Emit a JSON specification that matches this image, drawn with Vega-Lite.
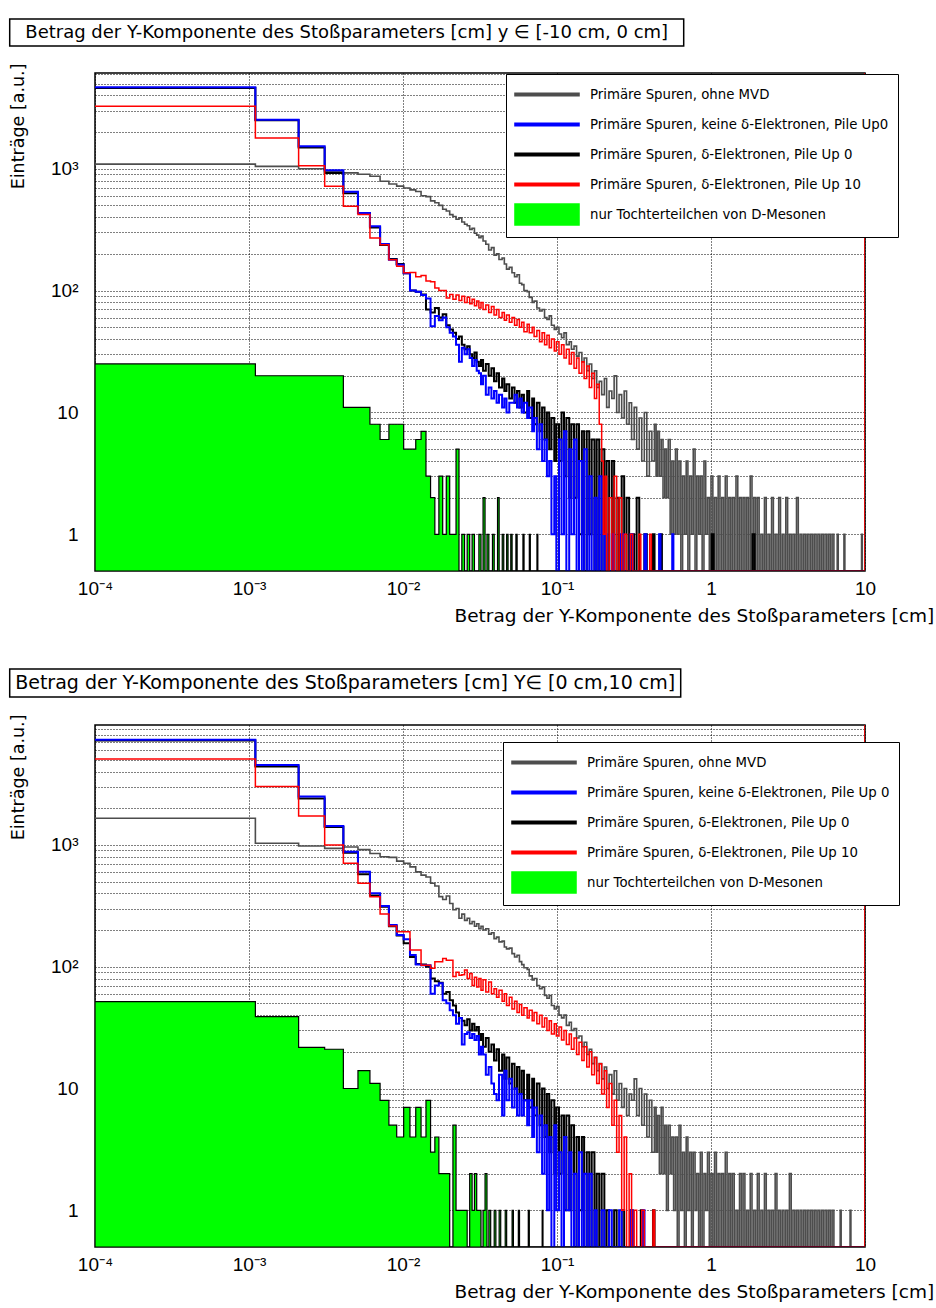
{
  "$schema": "https://vega.github.io/schema/vega-lite/v6.json",
  "padding": {"left": 8, "top": 18, "right": 4, "bottom": 4},
  "background": "white",
  "spacing": 42,
  "resolve": {"scale": {"color": "independent"}, "legend": {"color": "independent"}},
  "datasets": {
    "tg": [{"x":0.0001,"y":1090},{"x":0.0011,"y":1045},{"x":0.0021,"y":1000},{"x":0.0031,"y":950},{"x":0.0041,"y":925},{"x":0.0051,"y":900},{"x":0.0061,"y":868},{"x":0.0071,"y":790},{"x":0.0081,"y":750},{"x":0.0091,"y":720},{"x":0.0101,"y":695},{"x":0.0111,"y":670},{"x":0.0121,"y":650},{"x":0.0131,"y":600},{"x":0.0141,"y":590},{"x":0.0151,"y":545},{"x":0.0161,"y":525},{"x":0.0171,"y":500},{"x":0.0181,"y":465},{"x":0.0191,"y":450},{"x":0.0201,"y":420},{"x":0.0211,"y":405},{"x":0.0221,"y":385},{"x":0.0231,"y":395},{"x":0.0241,"y":365},{"x":0.0251,"y":350},{"x":0.0261,"y":340},{"x":0.0271,"y":318},{"x":0.0281,"y":325},{"x":0.0291,"y":295},{"x":0.0301,"y":285},{"x":0.0311,"y":272},{"x":0.0321,"y":280},{"x":0.0331,"y":255},{"x":0.0345,"y":240},{"x":0.036,"y":215},{"x":0.0375,"y":225},{"x":0.039,"y":195},{"x":0.0405,"y":200},{"x":0.042,"y":180},{"x":0.044,"y":185},{"x":0.0455,"y":165},{"x":0.047,"y":150},{"x":0.049,"y":155},{"x":0.051,"y":140},{"x":0.053,"y":130},{"x":0.055,"y":135},{"x":0.057,"y":115},{"x":0.059,"y":112},{"x":0.061,"y":100},{"x":0.064,"y":98},{"x":0.066,"y":88},{"x":0.069,"y":80},{"x":0.071,"y":82},{"x":0.074,"y":72},{"x":0.077,"y":68},{"x":0.08,"y":70},{"x":0.083,"y":60},{"x":0.086,"y":58},{"x":0.089,"y":62},{"x":0.092,"y":52},{"x":0.096,"y":48},{"x":0.099,"y":50},{"x":0.103,"y":44},{"x":0.107,"y":41},{"x":0.111,"y":45},{"x":0.115,"y":36},{"x":0.12,"y":38},{"x":0.124,"y":33},{"x":0.129,"y":35},{"x":0.134,"y":29},{"x":0.139,"y":31},{"x":0.145,"y":26},{"x":0.15,"y":28},{"x":0.156,"y":22},{"x":0.162,"y":25},{"x":0.168,"y":19},{"x":0.175,"y":22},{"x":0.181,"y":16},{"x":0.188,"y":18},{"x":0.195,"y":14},{"x":0.203,"y":19},{"x":0.21,"y":11},{"x":0.218,"y":15},{"x":0.227,"y":13},{"x":0.235,"y":20},{"x":0.244,"y":10},{"x":0.253,"y":14},{"x":0.263,"y":9},{"x":0.273,"y":15},{"x":0.283,"y":8},{"x":0.294,"y":12},{"x":0.305,"y":6},{"x":0.317,"y":11},{"x":0.329,"y":5},{"x":0.342,"y":9},{"x":0.355,"y":4},{"x":0.369,"y":10},{"x":0.383,"y":3},{"x":0.398,"y":7},{"x":0.413,"y":4},{"x":0.429,"y":8},{"x":0.44,"y":3},{"x":0.45,"y":7},{"x":0.462,"y":3},{"x":0.475,"y":6},{"x":0.488,"y":2},{"x":0.501,"y":5},{"x":0.514,"y":2},{"x":0.528,"y":6},{"x":0.543,"y":1},{"x":0.557,"y":4},{"x":0.572,"y":1},{"x":0.588,"y":5},{"x":0.604,"y":1},{"x":0.62,"y":4},{"x":0.637,"y":0.5},{"x":0.654,"y":3},{"x":0.672,"y":1},{"x":0.69,"y":4},{"x":0.708,"y":0.5},{"x":0.727,"y":3},{"x":0.747,"y":1},{"x":0.767,"y":5},{"x":0.788,"y":0.5},{"x":0.809,"y":3},{"x":0.831,"y":1},{"x":0.853,"y":3},{"x":0.876,"y":0.5},{"x":0.9,"y":4},{"x":0.924,"y":1},{"x":0.949,"y":2},{"x":0.975,"y":0.5},{"x":1.0,"y":3},{"x":1.028,"y":0.5},{"x":1.055,"y":2},{"x":1.084,"y":0.5},{"x":1.113,"y":3},{"x":1.143,"y":0.5},{"x":1.174,"y":2},{"x":1.206,"y":0.5},{"x":1.238,"y":3},{"x":1.272,"y":0.5},{"x":1.306,"y":2},{"x":1.341,"y":0.5},{"x":1.377,"y":2},{"x":1.415,"y":0.5},{"x":1.453,"y":3},{"x":1.492,"y":0.5},{"x":1.532,"y":2},{"x":1.574,"y":0.5},{"x":1.616,"y":2},{"x":1.66,"y":0.5},{"x":1.704,"y":2},{"x":1.75,"y":0.5},{"x":1.798,"y":3},{"x":1.846,"y":0.5},{"x":1.896,"y":2},{"x":1.947,"y":0.5},{"x":2.0,"y":2},{"x":2.054,"y":0.5},{"x":2.109,"y":1},{"x":2.166,"y":0.5},{"x":2.224,"y":2},{"x":2.284,"y":0.5},{"x":2.346,"y":1},{"x":2.409,"y":0.5},{"x":2.474,"y":2},{"x":2.541,"y":0.5},{"x":2.61,"y":1},{"x":2.68,"y":0.5},{"x":2.752,"y":2},{"x":2.826,"y":0.5},{"x":2.903,"y":1},{"x":2.981,"y":0.5},{"x":3.061,"y":2},{"x":3.144,"y":0.5},{"x":3.229,"y":1},{"x":3.316,"y":0.5},{"x":3.405,"y":1},{"x":3.497,"y":0.5},{"x":3.591,"y":2},{"x":3.688,"y":0.5},{"x":3.788,"y":1},{"x":3.89,"y":0.5},{"x":3.995,"y":1},{"x":4.103,"y":0.5},{"x":4.213,"y":1},{"x":4.327,"y":0.5},{"x":4.444,"y":1},{"x":4.564,"y":0.5},{"x":4.687,"y":1},{"x":4.813,"y":0.5},{"x":4.943,"y":1},{"x":5.076,"y":0.5},{"x":5.213,"y":1},{"x":5.354,"y":0.5},{"x":5.499,"y":1},{"x":5.647,"y":0.5},{"x":5.8,"y":1},{"x":5.956,"y":0.5},{"x":6.117,"y":1},{"x":6.28,"y":0.5},{"x":6.6,"y":1},{"x":6.7,"y":0.5},{"x":7.3,"y":1},{"x":7.4,"y":0.5},{"x":9.5,"y":1},{"x":9.6,"y":0.5},{"x":10,"y":0.5}],
    "tk": [{"x":0.0001,"y":4600},{"x":0.0011,"y":2500},{"x":0.0021,"y":1490},{"x":0.0031,"y":920},{"x":0.0041,"y":630},{"x":0.0051,"y":433},{"x":0.0061,"y":330},{"x":0.0071,"y":237},{"x":0.0081,"y":182},{"x":0.0091,"y":165},{"x":0.0101,"y":139},{"x":0.0111,"y":100},{"x":0.0121,"y":98},{"x":0.0131,"y":93},{"x":0.0141,"y":70},{"x":0.0151,"y":66},{"x":0.0161,"y":72},{"x":0.0171,"y":60},{"x":0.0181,"y":64},{"x":0.0191,"y":52},{"x":0.0201,"y":48},{"x":0.0211,"y":45},{"x":0.0221,"y":40},{"x":0.0231,"y":42},{"x":0.0241,"y":36},{"x":0.0251,"y":33},{"x":0.0261,"y":35},{"x":0.0271,"y":30},{"x":0.0281,"y":28},{"x":0.0291,"y":31},{"x":0.0301,"y":26},{"x":0.0311,"y":24},{"x":0.0321,"y":27},{"x":0.0331,"y":22},{"x":0.0345,"y":25},{"x":0.036,"y":20},{"x":0.0375,"y":23},{"x":0.039,"y":18},{"x":0.0405,"y":21},{"x":0.042,"y":16},{"x":0.044,"y":19},{"x":0.0455,"y":15},{"x":0.047,"y":17},{"x":0.049,"y":13},{"x":0.051,"y":16},{"x":0.053,"y":12},{"x":0.055,"y":15},{"x":0.057,"y":11},{"x":0.059,"y":14},{"x":0.061,"y":10},{"x":0.064,"y":15},{"x":0.066,"y":9},{"x":0.069,"y":13},{"x":0.071,"y":8},{"x":0.074,"y":12},{"x":0.077,"y":7},{"x":0.08,"y":11},{"x":0.083,"y":6},{"x":0.086,"y":10},{"x":0.089,"y":5},{"x":0.092,"y":9},{"x":0.096,"y":4},{"x":0.099,"y":8},{"x":0.103,"y":4},{"x":0.107,"y":10},{"x":0.111,"y":3},{"x":0.115,"y":9},{"x":0.12,"y":2},{"x":0.124,"y":8},{"x":0.129,"y":2},{"x":0.134,"y":8},{"x":0.139,"y":1},{"x":0.145,"y":7},{"x":0.15,"y":0.5},{"x":0.156,"y":7},{"x":0.162,"y":1},{"x":0.168,"y":6},{"x":0.175,"y":0.5},{"x":0.181,"y":6},{"x":0.188,"y":0.5},{"x":0.195,"y":5},{"x":0.203,"y":0.5},{"x":0.21,"y":4},{"x":0.218,"y":0.5},{"x":0.227,"y":4},{"x":0.235,"y":0.5},{"x":0.244,"y":2},{"x":0.253,"y":0.5},{"x":0.263,"y":3},{"x":0.273,"y":0.5},{"x":0.283,"y":2},{"x":0.294,"y":0.5},{"x":0.305,"y":1},{"x":0.317,"y":0.5},{"x":0.329,"y":2},{"x":0.342,"y":0.5},{"x":0.369,"y":1},{"x":0.383,"y":0.5},{"x":0.42,"y":1},{"x":0.43,"y":0.5},{"x":0.47,"y":1},{"x":0.48,"y":0.5},{"x":1.01,"y":1},{"x":1.04,"y":0.5},{"x":1.86,"y":1},{"x":1.92,"y":0.5},{"x":10,"y":0.5}],
    "tb": [{"x":0.0001,"y":4650},{"x":0.0011,"y":2520},{"x":0.0021,"y":1530},{"x":0.0031,"y":970},{"x":0.0041,"y":647},{"x":0.0051,"y":433},{"x":0.0061,"y":337},{"x":0.0071,"y":241},{"x":0.0081,"y":179},{"x":0.0091,"y":163},{"x":0.0101,"y":139},{"x":0.0111,"y":100},{"x":0.0121,"y":98},{"x":0.0131,"y":92},{"x":0.0141,"y":86},{"x":0.0151,"y":51},{"x":0.0161,"y":62},{"x":0.0171,"y":57},{"x":0.0181,"y":60},{"x":0.0191,"y":50},{"x":0.0201,"y":45},{"x":0.0211,"y":42},{"x":0.0221,"y":36},{"x":0.0231,"y":26},{"x":0.0241,"y":34},{"x":0.0251,"y":30},{"x":0.0261,"y":33},{"x":0.0271,"y":28},{"x":0.0281,"y":24},{"x":0.0291,"y":27},{"x":0.0301,"y":22},{"x":0.0311,"y":21},{"x":0.0321,"y":17},{"x":0.0331,"y":20},{"x":0.0345,"y":14},{"x":0.036,"y":16},{"x":0.0375,"y":13},{"x":0.039,"y":15},{"x":0.0405,"y":12},{"x":0.042,"y":14},{"x":0.044,"y":11},{"x":0.0455,"y":13},{"x":0.047,"y":10},{"x":0.049,"y":12},{"x":0.051,"y":12},{"x":0.053,"y":14},{"x":0.055,"y":11},{"x":0.057,"y":13},{"x":0.059,"y":10},{"x":0.061,"y":12},{"x":0.064,"y":9},{"x":0.066,"y":11},{"x":0.069,"y":7},{"x":0.071,"y":9},{"x":0.074,"y":5},{"x":0.077,"y":8},{"x":0.08,"y":4},{"x":0.083,"y":6},{"x":0.086,"y":3},{"x":0.089,"y":4},{"x":0.092,"y":1},{"x":0.096,"y":3},{"x":0.099,"y":0.5},{"x":0.103,"y":6},{"x":0.107,"y":1},{"x":0.111,"y":7},{"x":0.115,"y":0.5},{"x":0.12,"y":5},{"x":0.124,"y":1},{"x":0.129,"y":6},{"x":0.134,"y":0.5},{"x":0.139,"y":4},{"x":0.145,"y":0.5},{"x":0.15,"y":5},{"x":0.156,"y":0.5},{"x":0.162,"y":3},{"x":0.168,"y":0.5},{"x":0.175,"y":2},{"x":0.181,"y":0.5},{"x":0.188,"y":3},{"x":0.195,"y":0.5},{"x":0.203,"y":1},{"x":0.21,"y":0.5},{"x":0.227,"y":1},{"x":0.235,"y":0.5},{"x":0.26,"y":1},{"x":0.27,"y":0.5},{"x":0.3,"y":1},{"x":0.31,"y":0.5},{"x":0.37,"y":1},{"x":0.38,"y":0.5},{"x":0.46,"y":1},{"x":0.47,"y":0.5},{"x":0.56,"y":1},{"x":0.57,"y":0.5},{"x":10,"y":0.5}],
    "tr": [{"x":0.0001,"y":3250},{"x":0.0011,"y":1787},{"x":0.0021,"y":1058},{"x":0.0031,"y":717},{"x":0.0041,"y":491},{"x":0.0051,"y":420},{"x":0.0061,"y":270},{"x":0.0071,"y":238},{"x":0.0081,"y":179},{"x":0.0091,"y":158},{"x":0.0101,"y":140},{"x":0.0111,"y":141},{"x":0.0121,"y":130},{"x":0.0131,"y":133},{"x":0.0141,"y":120},{"x":0.0151,"y":118},{"x":0.0161,"y":105},{"x":0.0171,"y":100},{"x":0.0181,"y":100},{"x":0.0191,"y":87},{"x":0.0201,"y":93},{"x":0.0211,"y":85},{"x":0.0221,"y":92},{"x":0.0231,"y":83},{"x":0.0241,"y":90},{"x":0.0251,"y":80},{"x":0.0261,"y":88},{"x":0.0271,"y":78},{"x":0.0281,"y":85},{"x":0.0291,"y":75},{"x":0.0301,"y":82},{"x":0.0311,"y":72},{"x":0.0321,"y":80},{"x":0.0331,"y":70},{"x":0.0345,"y":76},{"x":0.036,"y":66},{"x":0.0375,"y":74},{"x":0.039,"y":63},{"x":0.0405,"y":70},{"x":0.042,"y":60},{"x":0.044,"y":66},{"x":0.0455,"y":57},{"x":0.047,"y":63},{"x":0.049,"y":55},{"x":0.051,"y":60},{"x":0.053,"y":52},{"x":0.055,"y":58},{"x":0.057,"y":50},{"x":0.059,"y":55},{"x":0.061,"y":46},{"x":0.064,"y":53},{"x":0.066,"y":45},{"x":0.069,"y":50},{"x":0.071,"y":42},{"x":0.074,"y":47},{"x":0.077,"y":38},{"x":0.08,"y":45},{"x":0.083,"y":36},{"x":0.086,"y":43},{"x":0.089,"y":34},{"x":0.092,"y":40},{"x":0.096,"y":32},{"x":0.099,"y":38},{"x":0.103,"y":30},{"x":0.107,"y":36},{"x":0.111,"y":28},{"x":0.115,"y":33},{"x":0.12,"y":25},{"x":0.124,"y":31},{"x":0.129,"y":23},{"x":0.134,"y":28},{"x":0.139,"y":21},{"x":0.145,"y":26},{"x":0.15,"y":19},{"x":0.156,"y":24},{"x":0.162,"y":16},{"x":0.168,"y":21},{"x":0.175,"y":13},{"x":0.181,"y":17},{"x":0.188,"y":8},{"x":0.195,"y":4},{"x":0.2,"y":1},{"x":0.205,"y":3},{"x":0.21,"y":0.5},{"x":0.218,"y":2},{"x":0.227,"y":0.5},{"x":0.235,"y":3},{"x":0.244,"y":0.5},{"x":0.253,"y":2},{"x":0.263,"y":0.5},{"x":0.273,"y":1},{"x":0.283,"y":0.5},{"x":0.3,"y":1},{"x":0.31,"y":0.5},{"x":0.34,"y":1},{"x":0.35,"y":0.5},{"x":0.4,"y":1},{"x":0.41,"y":0.5},{"x":9.98,"y":0.5},{"x":9.99,"y":30000},{"x":10,"y":30000}],
    "tn": [{"x":0.0001,"y":25},{"x":0.0011,"y":20},{"x":0.0041,"y":11},{"x":0.0061,"y":8},{"x":0.0071,"y":6},{"x":0.0081,"y":8},{"x":0.0101,"y":5},{"x":0.0121,"y":6},{"x":0.0131,"y":7},{"x":0.0141,"y":3},{"x":0.0151,"y":2},{"x":0.0161,"y":1},{"x":0.0171,"y":3},{"x":0.0181,"y":1},{"x":0.0191,"y":3},{"x":0.0201,"y":1},{"x":0.0211,"y":1},{"x":0.0221,"y":5},{"x":0.0231,"y":0.5},{"x":0.0241,"y":1},{"x":0.0251,"y":0.5},{"x":0.0261,"y":1},{"x":0.0271,"y":0.5},{"x":0.0281,"y":1},{"x":0.0291,"y":0.5},{"x":0.0311,"y":1},{"x":0.0321,"y":0.5},{"x":0.0331,"y":2},{"x":0.0341,"y":0.5},{"x":0.0351,"y":1},{"x":0.0361,"y":0.5},{"x":0.0381,"y":1},{"x":0.0391,"y":0.5},{"x":0.0411,"y":2},{"x":0.0421,"y":0.5},{"x":0.0441,"y":1},{"x":0.0451,"y":0.5},{"x":0.0471,"y":1},{"x":0.0481,"y":0.5},{"x":0.0501,"y":1},{"x":0.0511,"y":0.5},{"x":0.0541,"y":1},{"x":0.0551,"y":0.5},{"x":0.0601,"y":1},{"x":0.0611,"y":0.5},{"x":0.0661,"y":1},{"x":0.0671,"y":0.5},{"x":0.0741,"y":1},{"x":0.0751,"y":0.5},{"x":10,"y":0.5}],
    "bg": [{"x":0.0001,"y":1653},{"x":0.0011,"y":1030},{"x":0.0021,"y":980},{"x":0.0031,"y":936},{"x":0.0041,"y":960},{"x":0.0051,"y":915},{"x":0.0061,"y":850},{"x":0.0071,"y":800},{"x":0.0081,"y":790},{"x":0.0091,"y":735},{"x":0.0101,"y":706},{"x":0.0111,"y":660},{"x":0.0121,"y":600},{"x":0.0131,"y":565},{"x":0.0141,"y":545},{"x":0.0151,"y":484},{"x":0.0161,"y":460},{"x":0.0171,"y":376},{"x":0.0181,"y":356},{"x":0.0191,"y":380},{"x":0.0201,"y":330},{"x":0.0211,"y":293},{"x":0.0221,"y":300},{"x":0.0231,"y":250},{"x":0.0241,"y":270},{"x":0.0251,"y":240},{"x":0.0261,"y":250},{"x":0.0271,"y":225},{"x":0.0281,"y":235},{"x":0.0291,"y":215},{"x":0.0301,"y":225},{"x":0.0311,"y":205},{"x":0.0321,"y":215},{"x":0.0331,"y":200},{"x":0.0345,"y":205},{"x":0.036,"y":185},{"x":0.0375,"y":190},{"x":0.039,"y":170},{"x":0.0405,"y":175},{"x":0.042,"y":160},{"x":0.044,"y":162},{"x":0.0455,"y":145},{"x":0.047,"y":140},{"x":0.049,"y":142},{"x":0.051,"y":128},{"x":0.053,"y":120},{"x":0.055,"y":124},{"x":0.057,"y":110},{"x":0.059,"y":104},{"x":0.061,"y":98},{"x":0.064,"y":95},{"x":0.066,"y":84},{"x":0.069,"y":78},{"x":0.071,"y":80},{"x":0.074,"y":70},{"x":0.077,"y":66},{"x":0.08,"y":68},{"x":0.083,"y":58},{"x":0.086,"y":55},{"x":0.089,"y":58},{"x":0.092,"y":48},{"x":0.096,"y":45},{"x":0.099,"y":47},{"x":0.103,"y":40},{"x":0.107,"y":38},{"x":0.111,"y":40},{"x":0.115,"y":33},{"x":0.12,"y":35},{"x":0.124,"y":30},{"x":0.129,"y":31},{"x":0.134,"y":26},{"x":0.139,"y":27},{"x":0.145,"y":22},{"x":0.15,"y":24},{"x":0.156,"y":19},{"x":0.162,"y":21},{"x":0.168,"y":16},{"x":0.175,"y":18},{"x":0.181,"y":14},{"x":0.188,"y":16},{"x":0.195,"y":12},{"x":0.203,"y":15},{"x":0.21,"y":10},{"x":0.218,"y":13},{"x":0.227,"y":9},{"x":0.235,"y":14},{"x":0.244,"y":8},{"x":0.253,"y":11},{"x":0.263,"y":7},{"x":0.273,"y":10},{"x":0.283,"y":6},{"x":0.294,"y":9},{"x":0.305,"y":8},{"x":0.317,"y":12},{"x":0.329,"y":6},{"x":0.342,"y":10},{"x":0.355,"y":5},{"x":0.369,"y":9},{"x":0.383,"y":4},{"x":0.398,"y":8},{"x":0.413,"y":3},{"x":0.429,"y":7},{"x":0.44,"y":3},{"x":0.45,"y":6},{"x":0.462,"y":2},{"x":0.475,"y":7},{"x":0.488,"y":2},{"x":0.501,"y":5},{"x":0.514,"y":1},{"x":0.528,"y":5},{"x":0.543,"y":2},{"x":0.557,"y":4},{"x":0.572,"y":1},{"x":0.588,"y":4},{"x":0.604,"y":0.5},{"x":0.62,"y":5},{"x":0.637,"y":1},{"x":0.654,"y":3},{"x":0.672,"y":0.5},{"x":0.69,"y":4},{"x":0.708,"y":1},{"x":0.727,"y":3},{"x":0.747,"y":0.5},{"x":0.767,"y":3},{"x":0.788,"y":1},{"x":0.809,"y":2},{"x":0.831,"y":0.5},{"x":0.853,"y":3},{"x":0.876,"y":0.5},{"x":0.9,"y":2},{"x":0.924,"y":1},{"x":0.949,"y":3},{"x":0.975,"y":0.5},{"x":1.0,"y":2},{"x":1.028,"y":0.5},{"x":1.055,"y":3},{"x":1.084,"y":0.5},{"x":1.113,"y":2},{"x":1.143,"y":0.5},{"x":1.174,"y":2},{"x":1.206,"y":0.5},{"x":1.238,"y":3},{"x":1.272,"y":0.5},{"x":1.306,"y":2},{"x":1.341,"y":0.5},{"x":1.377,"y":2},{"x":1.415,"y":0.5},{"x":1.453,"y":1},{"x":1.492,"y":0.5},{"x":1.532,"y":2},{"x":1.574,"y":0.5},{"x":1.616,"y":2},{"x":1.66,"y":0.5},{"x":1.704,"y":1},{"x":1.75,"y":0.5},{"x":1.798,"y":2},{"x":1.846,"y":0.5},{"x":1.896,"y":1},{"x":1.947,"y":0.5},{"x":2.0,"y":2},{"x":2.054,"y":0.5},{"x":2.109,"y":1},{"x":2.166,"y":0.5},{"x":2.224,"y":2},{"x":2.284,"y":0.5},{"x":2.346,"y":1},{"x":2.409,"y":0.5},{"x":2.474,"y":1},{"x":2.541,"y":0.5},{"x":2.61,"y":2},{"x":2.68,"y":0.5},{"x":2.752,"y":1},{"x":2.826,"y":0.5},{"x":2.903,"y":1},{"x":2.981,"y":0.5},{"x":3.061,"y":1},{"x":3.144,"y":0.5},{"x":3.229,"y":2},{"x":3.316,"y":0.5},{"x":3.405,"y":1},{"x":3.497,"y":0.5},{"x":3.591,"y":1},{"x":3.688,"y":0.5},{"x":3.788,"y":1},{"x":3.89,"y":0.5},{"x":3.995,"y":1},{"x":4.103,"y":0.5},{"x":4.213,"y":1},{"x":4.327,"y":0.5},{"x":4.444,"y":1},{"x":4.564,"y":0.5},{"x":4.687,"y":1},{"x":4.813,"y":0.5},{"x":4.943,"y":1},{"x":5.076,"y":0.5},{"x":5.213,"y":1},{"x":5.354,"y":0.5},{"x":5.499,"y":1},{"x":5.647,"y":0.5},{"x":5.8,"y":1},{"x":5.956,"y":0.5},{"x":6.117,"y":1},{"x":6.28,"y":0.5},{"x":6.9,"y":1},{"x":7.0,"y":0.5},{"x":8.0,"y":1},{"x":8.1,"y":0.5},{"x":10,"y":0.5}],
    "bk": [{"x":0.0001,"y":7200},{"x":0.0011,"y":4400},{"x":0.0021,"y":2400},{"x":0.0031,"y":1400},{"x":0.0041,"y":860},{"x":0.0051,"y":575},{"x":0.0061,"y":385},{"x":0.0071,"y":310},{"x":0.0081,"y":215},{"x":0.0091,"y":180},{"x":0.0101,"y":156},{"x":0.0111,"y":120},{"x":0.0121,"y":105},{"x":0.0131,"y":104},{"x":0.0141,"y":100},{"x":0.0151,"y":80},{"x":0.0161,"y":76},{"x":0.0171,"y":74},{"x":0.0181,"y":60},{"x":0.0191,"y":62},{"x":0.0201,"y":53},{"x":0.0211,"y":48},{"x":0.0221,"y":42},{"x":0.0231,"y":38},{"x":0.0241,"y":36},{"x":0.0251,"y":33},{"x":0.0261,"y":37},{"x":0.0271,"y":30},{"x":0.0281,"y":34},{"x":0.0291,"y":30},{"x":0.0301,"y":32},{"x":0.0311,"y":25},{"x":0.0321,"y":28},{"x":0.0331,"y":22},{"x":0.0345,"y":26},{"x":0.036,"y":20},{"x":0.0375,"y":23},{"x":0.039,"y":17},{"x":0.0405,"y":21},{"x":0.042,"y":14},{"x":0.044,"y":19},{"x":0.0455,"y":12},{"x":0.047,"y":18},{"x":0.049,"y":11},{"x":0.051,"y":16},{"x":0.053,"y":10},{"x":0.055,"y":15},{"x":0.057,"y":9},{"x":0.059,"y":14},{"x":0.061,"y":8},{"x":0.064,"y":13},{"x":0.066,"y":7},{"x":0.069,"y":12},{"x":0.071,"y":6},{"x":0.074,"y":11},{"x":0.077,"y":5},{"x":0.08,"y":10},{"x":0.083,"y":4},{"x":0.086,"y":9},{"x":0.089,"y":3},{"x":0.092,"y":8},{"x":0.096,"y":2},{"x":0.099,"y":7},{"x":0.103,"y":2},{"x":0.107,"y":6},{"x":0.111,"y":1},{"x":0.115,"y":6},{"x":0.12,"y":1},{"x":0.124,"y":5},{"x":0.129,"y":0.5},{"x":0.134,"y":4},{"x":0.139,"y":1},{"x":0.145,"y":4},{"x":0.15,"y":0.5},{"x":0.156,"y":3},{"x":0.162,"y":0.5},{"x":0.168,"y":3},{"x":0.175,"y":0.5},{"x":0.181,"y":2},{"x":0.188,"y":0.5},{"x":0.195,"y":2},{"x":0.203,"y":0.5},{"x":0.21,"y":1},{"x":0.218,"y":0.5},{"x":0.235,"y":1},{"x":0.244,"y":0.5},{"x":0.263,"y":1},{"x":0.273,"y":0.5},{"x":0.3,"y":1},{"x":0.31,"y":0.5},{"x":0.35,"y":1},{"x":0.36,"y":0.5},{"x":0.42,"y":1},{"x":0.43,"y":0.5},{"x":10,"y":0.5}],
    "bb": [{"x":0.0001,"y":7280},{"x":0.0011,"y":4530},{"x":0.0021,"y":2490},{"x":0.0031,"y":1430},{"x":0.0041,"y":880},{"x":0.0051,"y":603},{"x":0.0061,"y":400},{"x":0.0071,"y":315},{"x":0.0081,"y":220},{"x":0.0091,"y":182},{"x":0.0101,"y":168},{"x":0.0111,"y":125},{"x":0.0121,"y":104},{"x":0.0131,"y":103},{"x":0.0141,"y":103},{"x":0.0151,"y":60},{"x":0.0161,"y":70},{"x":0.0171,"y":73},{"x":0.0181,"y":53},{"x":0.0191,"y":50},{"x":0.0201,"y":44},{"x":0.0211,"y":40},{"x":0.0221,"y":34},{"x":0.0231,"y":38},{"x":0.0241,"y":23},{"x":0.0251,"y":28},{"x":0.0261,"y":29},{"x":0.0271,"y":26},{"x":0.0281,"y":28},{"x":0.0291,"y":25},{"x":0.0301,"y":27},{"x":0.0311,"y":19},{"x":0.0321,"y":22},{"x":0.0331,"y":19},{"x":0.0345,"y":13},{"x":0.036,"y":15},{"x":0.0375,"y":11},{"x":0.039,"y":9},{"x":0.0405,"y":8},{"x":0.042,"y":13},{"x":0.044,"y":6},{"x":0.0455,"y":14},{"x":0.047,"y":8},{"x":0.049,"y":12},{"x":0.051,"y":7},{"x":0.053,"y":10},{"x":0.055,"y":6},{"x":0.057,"y":9},{"x":0.059,"y":6},{"x":0.061,"y":8},{"x":0.064,"y":5},{"x":0.066,"y":8},{"x":0.069,"y":4},{"x":0.071,"y":7},{"x":0.074,"y":3},{"x":0.077,"y":6},{"x":0.08,"y":2},{"x":0.083,"y":5},{"x":0.086,"y":1},{"x":0.089,"y":4},{"x":0.092,"y":0.5},{"x":0.096,"y":5},{"x":0.099,"y":1},{"x":0.103,"y":3},{"x":0.107,"y":0.5},{"x":0.111,"y":4},{"x":0.115,"y":1},{"x":0.12,"y":3},{"x":0.124,"y":0.5},{"x":0.129,"y":2},{"x":0.134,"y":0.5},{"x":0.139,"y":3},{"x":0.145,"y":0.5},{"x":0.15,"y":2},{"x":0.156,"y":0.5},{"x":0.162,"y":2},{"x":0.168,"y":0.5},{"x":0.175,"y":1},{"x":0.181,"y":0.5},{"x":0.195,"y":1},{"x":0.203,"y":0.5},{"x":0.218,"y":1},{"x":0.227,"y":0.5},{"x":0.253,"y":1},{"x":0.263,"y":0.5},{"x":0.3,"y":1},{"x":0.31,"y":0.5},{"x":0.36,"y":1},{"x":0.37,"y":0.5},{"x":10,"y":0.5}],
    "br": [{"x":0.0001,"y":5080},{"x":0.0011,"y":3010},{"x":0.0021,"y":1730},{"x":0.0031,"y":1000},{"x":0.0041,"y":706},{"x":0.0051,"y":484},{"x":0.0061,"y":376},{"x":0.0071,"y":271},{"x":0.0081,"y":216},{"x":0.0091,"y":194},{"x":0.0101,"y":194},{"x":0.0111,"y":137},{"x":0.0121,"y":137},{"x":0.0131,"y":103},{"x":0.0141,"y":103},{"x":0.0151,"y":97},{"x":0.0161,"y":110},{"x":0.0171,"y":110},{"x":0.0181,"y":117},{"x":0.0191,"y":113},{"x":0.0201,"y":113},{"x":0.0211,"y":83},{"x":0.0221,"y":90},{"x":0.0231,"y":85},{"x":0.0241,"y":86},{"x":0.0251,"y":94},{"x":0.0261,"y":80},{"x":0.0271,"y":88},{"x":0.0281,"y":70},{"x":0.0291,"y":82},{"x":0.0301,"y":68},{"x":0.0311,"y":80},{"x":0.0321,"y":64},{"x":0.0331,"y":78},{"x":0.0345,"y":62},{"x":0.036,"y":75},{"x":0.0375,"y":60},{"x":0.039,"y":66},{"x":0.0405,"y":56},{"x":0.042,"y":64},{"x":0.044,"y":52},{"x":0.0455,"y":60},{"x":0.047,"y":48},{"x":0.049,"y":56},{"x":0.051,"y":45},{"x":0.053,"y":52},{"x":0.055,"y":42},{"x":0.057,"y":49},{"x":0.059,"y":40},{"x":0.061,"y":46},{"x":0.064,"y":38},{"x":0.066,"y":44},{"x":0.069,"y":36},{"x":0.071,"y":42},{"x":0.074,"y":34},{"x":0.077,"y":40},{"x":0.08,"y":32},{"x":0.083,"y":38},{"x":0.086,"y":30},{"x":0.089,"y":36},{"x":0.092,"y":28},{"x":0.096,"y":34},{"x":0.099,"y":27},{"x":0.103,"y":32},{"x":0.107,"y":25},{"x":0.111,"y":30},{"x":0.115,"y":23},{"x":0.12,"y":28},{"x":0.124,"y":21},{"x":0.129,"y":26},{"x":0.134,"y":19},{"x":0.139,"y":24},{"x":0.145,"y":17},{"x":0.15,"y":22},{"x":0.156,"y":15},{"x":0.162,"y":20},{"x":0.168,"y":13},{"x":0.175,"y":18},{"x":0.181,"y":11},{"x":0.188,"y":16},{"x":0.195,"y":9},{"x":0.203,"y":14},{"x":0.21,"y":7},{"x":0.218,"y":11},{"x":0.227,"y":5},{"x":0.235,"y":8},{"x":0.244,"y":3},{"x":0.253,"y":6},{"x":0.263,"y":1},{"x":0.273,"y":4},{"x":0.283,"y":0.5},{"x":0.294,"y":2},{"x":0.305,"y":0.5},{"x":0.317,"y":1},{"x":0.329,"y":0.5},{"x":0.355,"y":1},{"x":0.369,"y":0.5},{"x":0.42,"y":1},{"x":0.43,"y":0.5},{"x":9.98,"y":0.5},{"x":9.99,"y":30000},{"x":10,"y":30000}],
    "bn": [{"x":0.0001,"y":51.6},{"x":0.0011,"y":38.9},{"x":0.0021,"y":21.8},{"x":0.0031,"y":21},{"x":0.0041,"y":10},{"x":0.0051,"y":14},{"x":0.0061,"y":11},{"x":0.0071,"y":8},{"x":0.0081,"y":5},{"x":0.0091,"y":4},{"x":0.0101,"y":7},{"x":0.0111,"y":4},{"x":0.0121,"y":7},{"x":0.0131,"y":4},{"x":0.0141,"y":8},{"x":0.0151,"y":3},{"x":0.0161,"y":4},{"x":0.0171,"y":2},{"x":0.0181,"y":2},{"x":0.0191,"y":2},{"x":0.0201,"y":0.5},{"x":0.0211,"y":5},{"x":0.0221,"y":1},{"x":0.0231,"y":1},{"x":0.0241,"y":1},{"x":0.0251,"y":1},{"x":0.0261,"y":0.5},{"x":0.0271,"y":2},{"x":0.0281,"y":1},{"x":0.0291,"y":2},{"x":0.0301,"y":1},{"x":0.0311,"y":1},{"x":0.0321,"y":0.5},{"x":0.0331,"y":1},{"x":0.0341,"y":2},{"x":0.0351,"y":0.5},{"x":0.0361,"y":1},{"x":0.0371,"y":0.5},{"x":0.0391,"y":1},{"x":0.0401,"y":0.5},{"x":0.0421,"y":1},{"x":0.0431,"y":0.5},{"x":0.0461,"y":1},{"x":0.0471,"y":0.5},{"x":0.0511,"y":1},{"x":0.0521,"y":0.5},{"x":0.0561,"y":1},{"x":0.0571,"y":0.5},{"x":0.0651,"y":1},{"x":0.0661,"y":0.5},{"x":0.0801,"y":1},{"x":0.0811,"y":0.5},{"x":10,"y":0.5}]
  },
  "vconcat": [
    {
      "spacing": 15,
      "resolve": {"scale": {"color": "independent"}, "legend": {"color": "independent"}},
      "vconcat": [
        {
          "width": 589, "height": 27,
          "view": {"stroke": null},
          "data": {"values": [{"t": "Betrag der Y-Komponente des Stoßparameters [cm]   y ∈ [-10 cm, 0 cm]"}]},
          "layer": [
            {"mark": {"type": "rect", "fill": "white", "stroke": "black", "strokeWidth": 1.5},
             "encoding": {
               "x": {"datum": 0, "type": "quantitative", "scale": {"domain": [0, 1], "range": [-85.3, 588.7]}, "axis": null},
               "x2": {"datum": 1},
               "y": {"datum": 0, "type": "quantitative", "scale": {"domain": [0, 1]}, "axis": null},
               "y2": {"datum": 1}}},
            {"mark": {"type": "text", "font": "DejaVu Sans", "fontSize": 18, "color": "black"},
             "encoding": {
               "x": {"datum": 0.5, "type": "quantitative", "scale": {"domain": [0, 1], "range": [-85.3, 588.7]}, "axis": null},
               "y": {"datum": 0.5, "type": "quantitative", "scale": {"domain": [0, 1]}, "axis": null},
               "text": {"field": "t"}}}
          ]
        },
        {
          "width": 770, "height": 498,
          "encoding": {
            "x": {"field": "x", "type": "quantitative", "title": "Betrag der Y-Komponente des Stoßparameters [cm]",
              "scale": {"type": "log", "domain": [0.0001, 10], "nice": false},
              "axis": {"values": [0.0001, 0.001, 0.01, 0.1, 1, 10], "labelExpr": "datum.value < 0.0005 ? '10⁻⁴' : datum.value < 0.005 ? '10⁻³' : datum.value < 0.05 ? '10⁻²' : datum.value < 0.5 ? '10⁻¹' : datum.value < 5 ? '1' : '10'", "ticks": false, "labelPadding": 8, "labelFlush": false, "grid": true, "titleFontSize": 18.5, "titleX": 838.7, "titleY": 44, "titleAlign": "right", "titleBaseline": "middle"}},
            "y": {"field": "y", "type": "quantitative", "title": "Einträge [a.u.]",
              "scale": {"type": "log", "domain": [0.5, 6100], "nice": false},
              "axis": {"values": [1,2,3,4,5,6,7,8,9,10,20,30,40,50,60,70,80,90,100,200,300,400,500,600,700,800,900,1000,2000,3000,4000,5000,6000],
                "labelExpr": "datum.value == 1 ? '1' : datum.value == 10 ? '10' : datum.value == 100 ? '10²' : datum.value == 1000 ? '10³' : ''",
                "tickSize": 0, "labelPadding": 17, "grid": true, "titleFontSize": 17.5, "titleAngle": 270, "titleAlign": "right", "titleBaseline": "top", "titleX": -85.3, "titleY": -10,
                "encode": {"ticks": {"update": {"x2": {"signal": "indexof([1,10,100,1000], datum.value) >= 0 ? 20 : 10"}}}}}}
          },
          "layer": [
            {"data": {"name": "tg"}, "mark": {"type": "line", "interpolate": "step-after", "strokeWidth": 1.6, "clip": true},
             "encoding": {"color": {"datum": "Primäre Spuren, ohne MVD",
               "scale": {"domain": ["Primäre Spuren, ohne MVD", "Primäre Spuren, keine δ-Elektronen, Pile Up0", "Primäre Spuren, δ-Elektronen, Pile Up 0", "Primäre Spuren, δ-Elektronen, Pile Up 10", "nur Tochterteilchen von D-Mesonen"], "range": ["#4d4d4d", "#0000ff", "#000000", "#ff0000", "#00ff00"]},
               "legend": {"title": null, "orient": "none", "legendX": 411, "legendY": 1, "fillColor": "white", "strokeColor": "black",
                 "encode": {"symbols": {"update": {
                   "shape": {"signal": "indexof(datum.value, 'Tochter') >= 0 ? 'M-3.05,-1H3.05V1H-3.05Z' : 'M-3.05,-1M-3.05,-0.12H3.05V0.12H-3.05ZM3.05,1'"},
                   "size": {"value": 441},
                   "strokeWidth": {"value": 1.5},
                   "fill": {"signal": "indexof(datum.value, 'Tochter') >= 0 ? '#00ff00' : indexof(datum.value, 'ohne') >= 0 ? '#808080' : indexof(datum.value, 'keine') >= 0 ? '#0000ff' : indexof(datum.value, 'Up 10') >= 0 ? '#ff0000' : '#000000'"},
                   "stroke": {"signal": "indexof(datum.value, 'Tochter') >= 0 ? '#000000' : indexof(datum.value, 'ohne') >= 0 ? '#808080' : indexof(datum.value, 'keine') >= 0 ? '#0000ff' : indexof(datum.value, 'Up 10') >= 0 ? '#ff0000' : '#000000'"},
                   "opacity": {"value": 1}}}}}}}},
            {"data": {"name": "tk"}, "mark": {"type": "line", "interpolate": "step-after", "strokeWidth": 2, "clip": true},
             "encoding": {"color": {"datum": "Primäre Spuren, δ-Elektronen, Pile Up 0",
               "scale": {"domain": ["Primäre Spuren, ohne MVD", "Primäre Spuren, keine δ-Elektronen, Pile Up0", "Primäre Spuren, δ-Elektronen, Pile Up 0", "Primäre Spuren, δ-Elektronen, Pile Up 10", "nur Tochterteilchen von D-Mesonen"], "range": ["#4d4d4d", "#0000ff", "#000000", "#ff0000", "#00ff00"]}}}},
            {"data": {"name": "tb"}, "mark": {"type": "line", "interpolate": "step-after", "strokeWidth": 2, "clip": true},
             "encoding": {"color": {"datum": "Primäre Spuren, keine δ-Elektronen, Pile Up0",
               "scale": {"domain": ["Primäre Spuren, ohne MVD", "Primäre Spuren, keine δ-Elektronen, Pile Up0", "Primäre Spuren, δ-Elektronen, Pile Up 0", "Primäre Spuren, δ-Elektronen, Pile Up 10", "nur Tochterteilchen von D-Mesonen"], "range": ["#4d4d4d", "#0000ff", "#000000", "#ff0000", "#00ff00"]}}}},
            {"data": {"name": "tr"}, "mark": {"type": "line", "interpolate": "step-after", "strokeWidth": 1.5, "clip": true},
             "encoding": {"color": {"datum": "Primäre Spuren, δ-Elektronen, Pile Up 10",
               "scale": {"domain": ["Primäre Spuren, ohne MVD", "Primäre Spuren, keine δ-Elektronen, Pile Up0", "Primäre Spuren, δ-Elektronen, Pile Up 0", "Primäre Spuren, δ-Elektronen, Pile Up 10", "nur Tochterteilchen von D-Mesonen"], "range": ["#4d4d4d", "#0000ff", "#000000", "#ff0000", "#00ff00"]}}}},
            {"data": {"name": "tn"}, "mark": {"type": "area", "interpolate": "step-after", "stroke": "black", "strokeWidth": 1.2, "fillOpacity": 1, "clip": true},
             "encoding": {"y2": {"datum": 0.5}, "color": {"datum": "nur Tochterteilchen von D-Mesonen",
               "scale": {"domain": ["Primäre Spuren, ohne MVD", "Primäre Spuren, keine δ-Elektronen, Pile Up0", "Primäre Spuren, δ-Elektronen, Pile Up 0", "Primäre Spuren, δ-Elektronen, Pile Up 10", "nur Tochterteilchen von D-Mesonen"], "range": ["#4d4d4d", "#0000ff", "#000000", "#ff0000", "#00ff00"]}}}}
          ]
        }
      ]
    },
    {
      "spacing": 15,
      "resolve": {"scale": {"color": "independent"}, "legend": {"color": "independent"}},
      "vconcat": [
        {
          "width": 586, "height": 28,
          "view": {"stroke": null},
          "data": {"values": [{"t": "Betrag der Y-Komponente des Stoßparameters [cm]  Y∈ [0 cm,10 cm]"}]},
          "layer": [
            {"mark": {"type": "rect", "fill": "white", "stroke": "black", "strokeWidth": 1.5},
             "encoding": {
               "x": {"datum": 0, "type": "quantitative", "scale": {"domain": [0, 1], "range": [-85.3, 585.7]}, "axis": null},
               "x2": {"datum": 1},
               "y": {"datum": 0, "type": "quantitative", "scale": {"domain": [0, 1]}, "axis": null},
               "y2": {"datum": 1}}},
            {"mark": {"type": "text", "font": "DejaVu Sans", "fontSize": 19, "color": "black"},
             "encoding": {
               "x": {"datum": 0.5, "type": "quantitative", "scale": {"domain": [0, 1], "range": [-85.3, 585.7]}, "axis": null},
               "y": {"datum": 0.5, "type": "quantitative", "scale": {"domain": [0, 1]}, "axis": null},
               "text": {"field": "t"}}}
          ]
        },
        {
          "width": 770, "height": 522,
          "encoding": {
            "x": {"field": "x", "type": "quantitative", "title": "Betrag der Y-Komponente des Stoßparameters [cm]",
              "scale": {"type": "log", "domain": [0.0001, 10], "nice": false},
              "axis": {"values": [0.0001, 0.001, 0.01, 0.1, 1, 10], "labelExpr": "datum.value < 0.0005 ? '10⁻⁴' : datum.value < 0.005 ? '10⁻³' : datum.value < 0.05 ? '10⁻²' : datum.value < 0.5 ? '10⁻¹' : datum.value < 5 ? '1' : '10'", "ticks": false, "labelPadding": 8, "labelFlush": false, "grid": true, "titleFontSize": 18.5, "titleX": 838.7, "titleY": 44, "titleAlign": "right", "titleBaseline": "middle"}},
            "y": {"field": "y", "type": "quantitative", "title": "Einträge [a.u.]",
              "scale": {"type": "log", "domain": [0.5, 9640], "nice": false},
              "axis": {"values": [1,2,3,4,5,6,7,8,9,10,20,30,40,50,60,70,80,90,100,200,300,400,500,600,700,800,900,1000,2000,3000,4000,5000,6000,7000,8000,9000],
                "labelExpr": "datum.value == 1 ? '1' : datum.value == 10 ? '10' : datum.value == 100 ? '10²' : datum.value == 1000 ? '10³' : ''",
                "tickSize": 0, "labelPadding": 17, "grid": true, "titleFontSize": 17.5, "titleAngle": 270, "titleAlign": "right", "titleBaseline": "top", "titleX": -85.3, "titleY": -11,
                "encode": {"ticks": {"update": {"x2": {"signal": "indexof([1,10,100,1000], datum.value) >= 0 ? 20 : 10"}}}}}}
          },
          "layer": [
            {"data": {"name": "bg"}, "mark": {"type": "line", "interpolate": "step-after", "strokeWidth": 1.6, "clip": true},
             "encoding": {"color": {"datum": "Primäre Spuren, ohne MVD",
               "scale": {"domain": ["Primäre Spuren, ohne MVD", "Primäre Spuren, keine δ-Elektronen, Pile Up 0", "Primäre Spuren, δ-Elektronen, Pile Up 0", "Primäre Spuren, δ-Elektronen, Pile Up 10", "nur Tochterteilchen von D-Mesonen"], "range": ["#4d4d4d", "#0000ff", "#000000", "#ff0000", "#00ff00"]},
               "legend": {"title": null, "orient": "none", "legendX": 408, "legendY": 17, "fillColor": "white", "strokeColor": "black",
                 "encode": {"symbols": {"update": {
                   "shape": {"signal": "indexof(datum.value, 'Tochter') >= 0 ? 'M-3.05,-1H3.05V1H-3.05Z' : 'M-3.05,-1M-3.05,-0.12H3.05V0.12H-3.05ZM3.05,1'"},
                   "size": {"value": 441},
                   "strokeWidth": {"value": 1.5},
                   "fill": {"signal": "indexof(datum.value, 'Tochter') >= 0 ? '#00ff00' : indexof(datum.value, 'ohne') >= 0 ? '#808080' : indexof(datum.value, 'keine') >= 0 ? '#0000ff' : indexof(datum.value, 'Up 10') >= 0 ? '#ff0000' : '#000000'"},
                   "stroke": {"signal": "indexof(datum.value, 'Tochter') >= 0 ? '#000000' : indexof(datum.value, 'ohne') >= 0 ? '#808080' : indexof(datum.value, 'keine') >= 0 ? '#0000ff' : indexof(datum.value, 'Up 10') >= 0 ? '#ff0000' : '#000000'"},
                   "opacity": {"value": 1}}}}}}}},
            {"data": {"name": "bk"}, "mark": {"type": "line", "interpolate": "step-after", "strokeWidth": 2, "clip": true},
             "encoding": {"color": {"datum": "Primäre Spuren, δ-Elektronen, Pile Up 0",
               "scale": {"domain": ["Primäre Spuren, ohne MVD", "Primäre Spuren, keine δ-Elektronen, Pile Up 0", "Primäre Spuren, δ-Elektronen, Pile Up 0", "Primäre Spuren, δ-Elektronen, Pile Up 10", "nur Tochterteilchen von D-Mesonen"], "range": ["#4d4d4d", "#0000ff", "#000000", "#ff0000", "#00ff00"]}}}},
            {"data": {"name": "bb"}, "mark": {"type": "line", "interpolate": "step-after", "strokeWidth": 2, "clip": true},
             "encoding": {"color": {"datum": "Primäre Spuren, keine δ-Elektronen, Pile Up 0",
               "scale": {"domain": ["Primäre Spuren, ohne MVD", "Primäre Spuren, keine δ-Elektronen, Pile Up 0", "Primäre Spuren, δ-Elektronen, Pile Up 0", "Primäre Spuren, δ-Elektronen, Pile Up 10", "nur Tochterteilchen von D-Mesonen"], "range": ["#4d4d4d", "#0000ff", "#000000", "#ff0000", "#00ff00"]}}}},
            {"data": {"name": "br"}, "mark": {"type": "line", "interpolate": "step-after", "strokeWidth": 1.5, "clip": true},
             "encoding": {"color": {"datum": "Primäre Spuren, δ-Elektronen, Pile Up 10",
               "scale": {"domain": ["Primäre Spuren, ohne MVD", "Primäre Spuren, keine δ-Elektronen, Pile Up 0", "Primäre Spuren, δ-Elektronen, Pile Up 0", "Primäre Spuren, δ-Elektronen, Pile Up 10", "nur Tochterteilchen von D-Mesonen"], "range": ["#4d4d4d", "#0000ff", "#000000", "#ff0000", "#00ff00"]}}}},
            {"data": {"name": "bn"}, "mark": {"type": "area", "interpolate": "step-after", "stroke": "black", "strokeWidth": 1.2, "fillOpacity": 1, "clip": true},
             "encoding": {"y2": {"datum": 0.5}, "color": {"datum": "nur Tochterteilchen von D-Mesonen",
               "scale": {"domain": ["Primäre Spuren, ohne MVD", "Primäre Spuren, keine δ-Elektronen, Pile Up 0", "Primäre Spuren, δ-Elektronen, Pile Up 0", "Primäre Spuren, δ-Elektronen, Pile Up 10", "nur Tochterteilchen von D-Mesonen"], "range": ["#4d4d4d", "#0000ff", "#000000", "#ff0000", "#00ff00"]}}}}
          ]
        }
      ]
    }
  ],
  "config": {
    "view": {"stroke": "black", "strokeWidth": 1.5},
    "font": "DejaVu Sans",
    "axis": {"labelFont": "Liberation Sans", "labelFontSize": 19, "labelColor": "black", "titleFont": "DejaVu Sans", "titleFontWeight": "normal", "titleColor": "black", "domain": false, "gridColor": "black", "gridDash": [1, 2], "gridWidth": 1, "tickColor": "black", "tickWidth": 1, "labelOverlap": false, "zindex": 0},
    "legend": {"padding": 9, "rowPadding": 3, "labelOffset": 31.5, "symbolOffset": 20.5, "labelLimit": 420, "labelFont": "DejaVu Sans", "labelFontSize": 13.3, "labelColor": "black", "symbolSize": 441, "symbolStrokeWidth": 1.5, "symbolType": "M-3.05,-1H3.05V1H-3.05Z"}
  }
}
